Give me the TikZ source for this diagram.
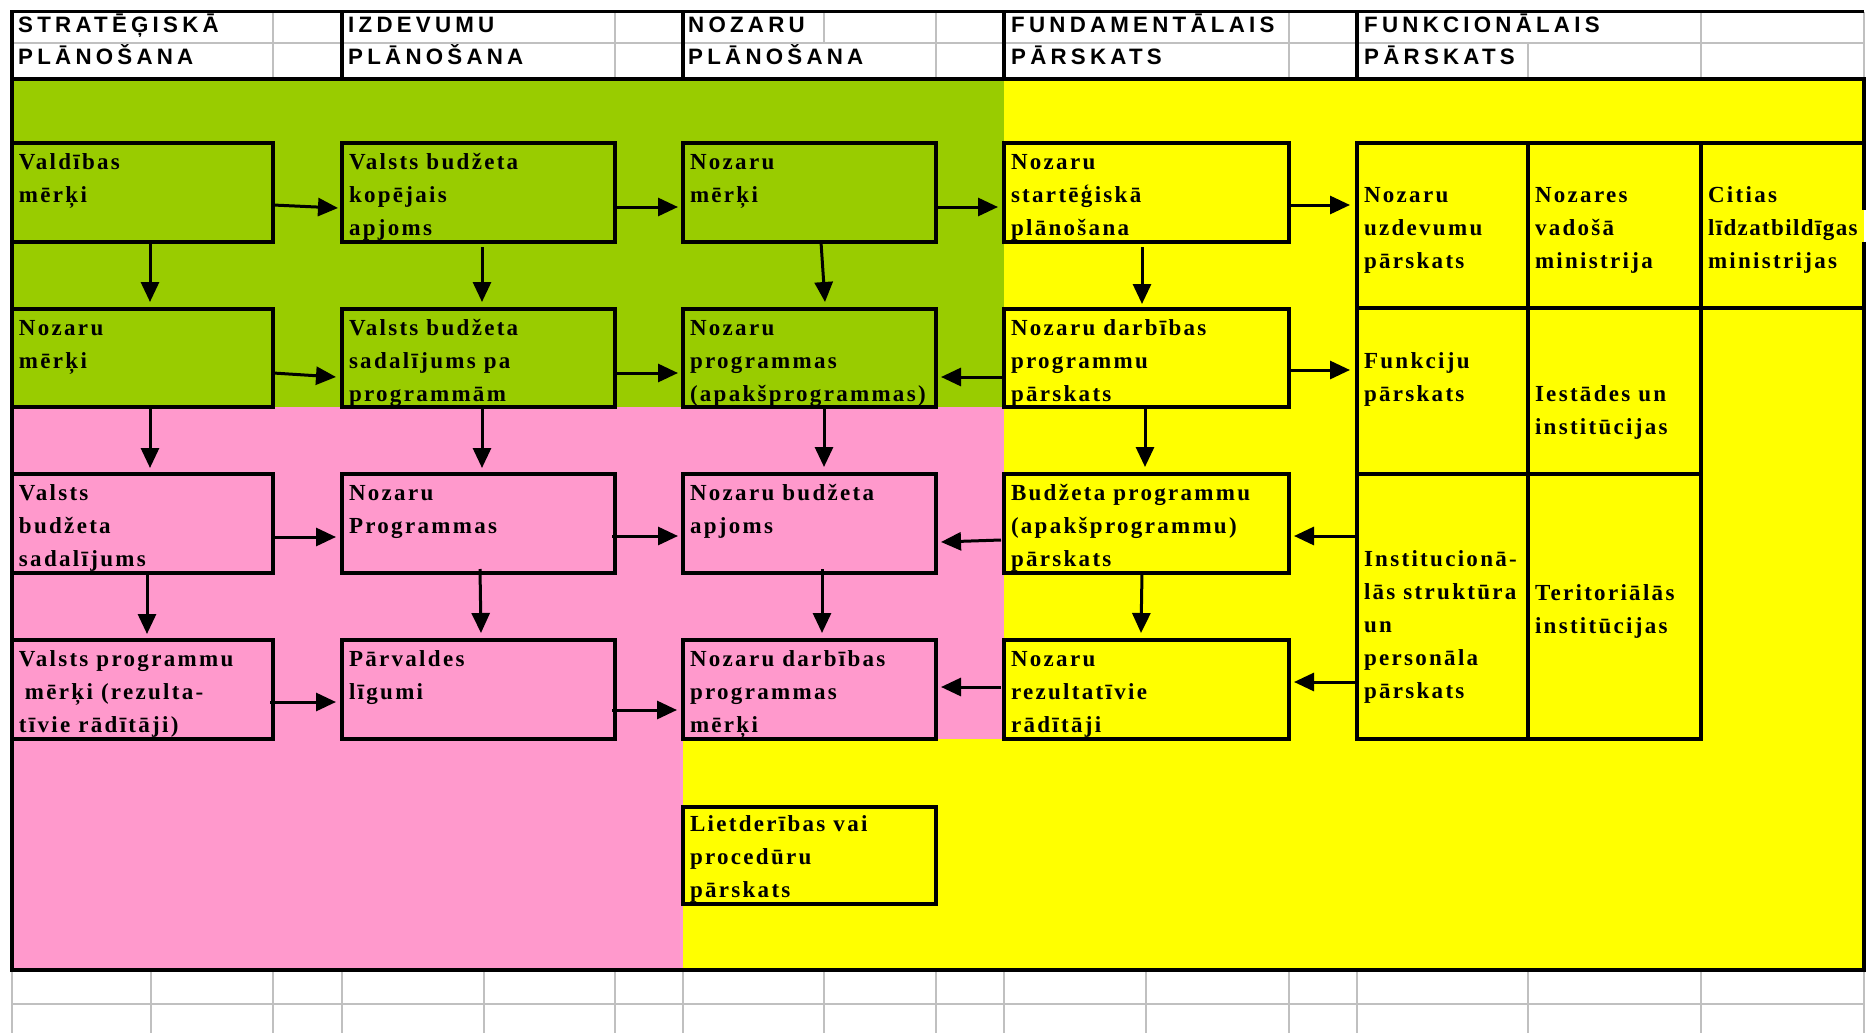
\documentclass[tikz,border=0pt]{standalone}
\usepackage{fontspec}
\setmainfont{Liberation Serif}
\newfontfamily\hdrfamily[LetterSpace=19]{Liberation Sans}
\newfontfamily\bxfamily[LetterSpace=10]{Liberation Serif}
\usetikzlibrary{arrows.meta,calc}
\definecolor{lgreen}{HTML}{99CC00}
\definecolor{lpink}{HTML}{FF99CC}
\definecolor{lyellow}{HTML}{FFFF00}
\definecolor{lgray}{HTML}{C0C0C0}
\newcommand\bxfont{\bxfamily\bfseries\fontsize{23}{33}\selectfont\hyphenpenalty=10000\exhyphenpenalty=10000\parindent=0pt}
% width, height, first baseline, lines
\newcommand\btx[4]{\hspace*{7pt}\makebox[\dimexpr#1pt-7pt\relax][l]{\parbox[c][#2pt][t]{500pt}{\bxfont\rule{0pt}{#3pt}#4}}}
\begin{document}
\begin{tikzpicture}[x=1pt,y=-1pt,
  box/.style={draw=black, line width=4pt, inner sep=0pt, outer sep=0pt, anchor=north west},
  cell/.style={inner sep=0pt, outer sep=0pt, anchor=north west},
  arr/.style={line width=3pt, -{Triangle[length=20pt,width=18pt]}},
  hdr/.style={inner sep=0pt, anchor=base west, font=\hdrfamily\bfseries\fontsize{22.3}{26}\selectfont},
  gridg/.style={draw=lgray, line width=2.5pt},
  thk/.style={line width=4pt}]
\useasboundingbox (0,0) rectangle (1868,1033);
\fill[white] (0,0) rectangle (1868,1033);
% colour regions
\fill[lgreen] (12,79) rectangle (1004,407);
\fill[lpink] (12,407) rectangle (1004,739);
\fill[lpink] (12,739) rectangle (683,970);
\fill[lyellow] (1004,79) rectangle (1864,970);
\fill[lyellow] (683,739) rectangle (1004,970);
% grey spreadsheet grid
\draw[gridg] (12,43) -- (1864,43);
\foreach \x in {273,615,936,1289,1701,1864} \draw[gridg] (\x,12) -- (\x,79);
\draw[gridg] (824,12) -- (824,43);
\draw[gridg] (1528,43) -- (1528,79);
\draw[gridg] (12,1004) -- (1864,1004);
\foreach \x in {12,151,273,342,484,615,683,824,936,1004,1146,1289,1357,1528,1701,1864} \draw[gridg] (\x,970) -- (\x,1033);
% black header lines
\draw[line width=3pt] (10.5,12) -- (1864,12);
\foreach \x in {12,342,683,1004,1357} \draw[thk] (\x,10.5) -- (\x,79);
% frame
\draw[thk, line join=miter] (1864,242) -- (1864,970) -- (12,970) -- (12,79) -- (1864,79) -- (1864,210);
\draw[thk] (1701,143) -- (1866,143);
\draw[thk] (1701,308) -- (1866,308);
% header texts
\node[hdr] (h1) at (18,33) {STRATĒĢISKĀ};
\node[hdr] (h2) at (18,65) {PLĀNOŠANA};
\node[hdr] (h3) at (348,33) {IZDEVUMU};
\node[hdr] (h4) at (348,65) {PLĀNOŠANA};
\node[hdr] (h5) at (688,33) {NOZARU};
\node[hdr] (h6) at (688,65) {PLĀNOŠANA};
\node[hdr] (h7) at (1011,33) {FUNDAMENTĀLAIS};
\node[hdr] (h8) at (1011,65) {PĀRSKATS};
\node[hdr] (h9) at (1364,33) {FUNKCIONĀLAIS};
\node[hdr] (h10) at (1364,65) {PĀRSKATS};
% row 1
\node[box] (b11) at (12,143) {\btx{261}{99}{26}{Valdības\\mērķi}};
\node[box] (b12) at (342,143) {\btx{273}{99}{26}{Valsts budžeta\\kopējais\\apjoms}};
\node[box] (b13) at (683,143) {\btx{253}{99}{26}{Nozaru\\mērķi}};
\node[box] (b14) at (1004,143) {\btx{285}{99}{26}{Nozaru\\startēģiskā\\plānošana}};
% row 2
\node[box] (b21) at (12,309) {\btx{261}{98}{26}{Nozaru\\mērķi}};
\node[box] (b22) at (342,309) {\btx{273}{98}{26}{Valsts budžeta\\sadalījums pa\\programmām}};
\node[box] (b23) at (683,309) {\btx{253}{98}{26}{Nozaru\\programmas\\(apakšprogrammas)}};
\node[box] (b24) at (1004,309) {\btx{285}{98}{26}{Nozaru darbības\\programmu\\pārskats}};
% row 3
\node[box] (b31) at (12,474) {\btx{261}{99}{26}{Valsts\\budžeta\\sadalījums}};
\node[box] (b32) at (342,474) {\btx{273}{99}{26}{Nozaru\\Programmas}};
\node[box] (b33) at (683,474) {\btx{253}{99}{26}{Nozaru budžeta\\apjoms}};
\node[box] (b34) at (1004,474) {\btx{285}{99}{26}{Budžeta programmu\\(apakšprogrammu)\\pārskats}};
% row 4
\node[box] (b41) at (12,640) {\btx{261}{99}{26}{Valsts programmu\\\hspace*{6pt}mērķi (rezulta-\\tīvie rādītāji)}};
\node[box] (b42) at (342,640) {\btx{273}{99}{26}{Pārvaldes\\līgumi}};
\node[box] (b43) at (683,640) {\btx{253}{99}{26}{Nozaru darbības\\programmas\\mērķi}};
\node[box] (b44) at (1004,640) {\btx{285}{99}{26}{Nozaru\\rezultatīvie\\rādītāji}};
% row 5
\node[box] (b51) at (683,807) {\btx{253}{97}{24}{Lietderības vai\\procedūru\\pārskats}};
% functional table
\node[box] (t11) at (1357,143) {\btx{171}{165}{59}{Nozaru\\uzdevumu\\pārskats}};
\node[box] (t12) at (1528,143) {\btx{173}{165}{59}{Nozares\\vadošā\\ministrija}};
\node[cell] (t13) at (1701,143) {\btx{163}{165}{59}{Citias\\{\addfontfeature{LetterSpace=6}līdzatbildīgas}\\ministrijas}};
\node[box] (t21) at (1357,308) {\btx{171}{166}{60}{Funkciju\\pārskats}};
\node[box] (t22) at (1528,308) {\btx{173}{166}{93}{Iestādes un\\institūcijas}};
\node[box] (t31) at (1357,474) {\btx{171}{265}{92}{Institucionā-\\lās struktūra\\un\\personāla\\pārskats}};
\node[box] (t32) at (1528,474) {\btx{173}{265}{126}{Teritoriālās\\institūcijas}};
% horizontal arrows
\draw[arr] ($(b11.north east)+(0,62)$) -- ($(b12.north west)+(-4,65)$);
\draw[arr] ($(b12.north east)+(0,64)$) -- ($(b13.north west)+(-5,64)$);
\draw[arr] ($(b13.north east)+(0,64)$) -- ($(b14.north west)+(-6,64)$);
\draw[arr] ($(b14.north east)+(0,62)$) -- ($(t11.north west)+(-7,62)$);
\draw[arr] ($(b21.north east)+(0,64)$) -- ($(b22.north west)+(-6,68)$);
\draw[arr] ($(b22.north east)+(0,64)$) -- ($(b23.north west)+(-5,64)$);
\draw[arr] ($(b24.north west)+(0,68)$) -- ($(b23.north east)+(5,68)$);
\draw[arr] ($(b24.north east)+(0,61)$) -- ($(t21.north west)+(-7,62)$);
\draw[arr] ($(b31.north east)+(0,63)$) -- ($(b32.north west)+(-6,63)$);
\draw[arr] ($(b32.north east)+(-3,62)$) -- ($(b33.north west)+(-5,62)$);
\draw[arr] ($(b34.north west)+(-3,66)$) -- ($(b33.north east)+(5,68)$);
\draw[arr] ($(t31.north west)+(0,62)$) -- ($(b34.north east)+(5,62)$);
\draw[arr] ($(b41.north east)+(-3,62)$) -- ($(b42.north west)+(-6,62)$);
\draw[arr] ($(b42.north east)+(-3,70)$) -- ($(b43.north west)+(-6,70)$);
\draw[arr] ($(b44.north west)+(-3,47)$) -- ($(b43.north east)+(5,47)$);
\draw[arr] ($(t31.north west)+(0,208)$) -- ($(b44.north east)+(5,42)$);
% vertical arrows
\draw[arr] ($(b11.south west)+(138,0)$) -- ($(b21.north west)+(138,-7)$);
\draw[arr] ($(b12.south west)+(140,5)$) -- ($(b22.north west)+(140,-7)$);
\draw[arr] ($(b13.south west)+(138,0)$) -- ($(b23.north west)+(142,-7)$);
\draw[arr] ($(b14.south west)+(138,5)$) -- ($(b24.north west)+(138,-5)$);
\draw[arr] ($(b21.south west)+(138,0)$) -- ($(b31.north west)+(138,-6)$);
\draw[arr] ($(b22.south west)+(140,0)$) -- ($(b32.north west)+(140,-6)$);
\draw[arr] ($(b23.south west)+(141,0)$) -- ($(b33.north west)+(141,-7)$);
\draw[arr] ($(b24.south west)+(141,0)$) -- ($(b34.north west)+(141,-7)$);
\draw[arr] ($(b31.south west)+(135,0)$) -- ($(b41.north west)+(135,-6)$);
\draw[arr] ($(b32.south west)+(138,-4)$) -- ($(b42.north west)+(139,-7)$);
\draw[arr] ($(b33.south west)+(139,-4)$) -- ($(b43.north west)+(139,-7)$);
\draw[arr] ($(b34.south west)+(138,0)$) -- ($(b44.north west)+(137,-7)$);
\end{tikzpicture}
\end{document}
